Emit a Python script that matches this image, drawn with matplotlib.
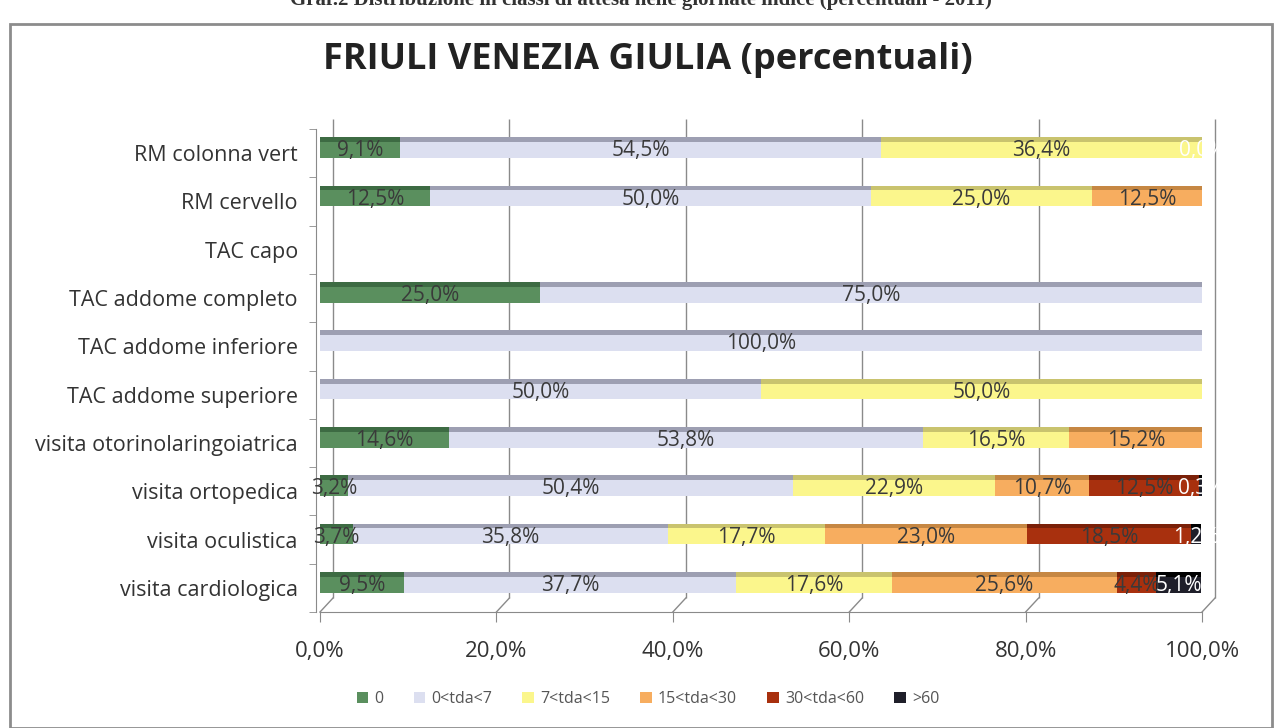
import matplotlib.pyplot as plt
import numpy as np
from matplotlib.patches import Rectangle

plt.rcParams['font.family'] = ['Open Sans', 'DejaVu Sans']

categorie = ["RM colonna vert", "RM cervello", "TAC capo", "TAC addome completo",
             "TAC addome inferiore", "TAC addome superiore",
             "visita otorinolaringoiatrica", "visita ortopedica",
             "visita oculistica", "visita cardiologica"]

classi = ["0", "0<tda<7", "7<tda<15", "15<tda<30", "30<tda<60", ">60"]

# percentuali per classe, nello stesso ordine di categorie
v_0 = [9.1, 12.5, 0, 25.0, 0, 0, 14.6, 3.2, 3.7, 9.5]
v_0_7 = [54.5, 50.0, 0, 75.0, 100.0, 50.0, 53.8, 50.4, 35.8, 37.7]
v_7_15 = [36.4, 25.0, 0, 0, 0, 50.0, 16.5, 22.9, 17.7, 17.6]
v_15_30 = [0, 12.5, 0, 0, 0, 0, 15.2, 10.7, 23.0, 25.6]
v_30_60 = [0, 0, 0, 0, 0, 0, 0, 12.5, 18.5, 4.4]
v_60 = [0.04, 0, 0, 0, 0, 0, 0, 0.3, 1.2, 5.1]

serie = [v_0, v_0_7, v_7_15, v_15_30, v_30_60, v_60]
colori = ['#5a8f5e', '#dcdff0', '#fbf68c', '#f7ad5f', '#a8300e', '#1f1f2a']
bordi = ['#3d6b43', '#9d9fb2', '#c9c36e', '#c68743', '#7a2008', '#000000']
col_testo = ['#3a3a3a', '#3a3a3a', '#3a3a3a', '#3a3a3a', '#3a3a3a', 'white']
grigio = '#8a8a8a'

fig = plt.figure(figsize=(12.82, 7.28), dpi=100)
ax = fig.add_axes([0.2496, 0.1593, 0.688, 0.6635])

y = np.arange(len(categorie))
left = np.zeros(len(categorie))
for i, vals in enumerate(serie):
    vals = np.array(vals)
    # corpo della barra + bordo superiore scuro (effetto 3D)
    ax.barh(y - 0.065, vals, left=left, height=0.33, color=colori[i], label=classi[i],
            edgecolor='none', zorder=3)
    ax.barh(y - 0.28, vals, left=left, height=0.1, color=bordi[i],
            edgecolor='none', zorder=3)
    for j, v in enumerate(vals):
        if v > 0:
            ax.text(left[j] + v / 2, y[j] - 0.05, f"{v:.1f}%".replace('.', ','),
                    ha='center', va='center', fontsize=15, color=col_testo[i],
                    zorder=4, clip_on=False)
    left = left + vals

ax.set_xlim(0, 100)
ax.set_ylim(len(categorie) - 0.5, -0.5)
ax.set_yticks(np.arange(-0.5, len(categorie), 1), minor=True)
ax.set_yticks(y, labels=categorie)
xt = np.arange(0, 101, 20)
ax.set_xticks(xt, labels=[f"{t:.1f}%".replace('.', ',') for t in xt])
ax.tick_params(axis='x', length=7, color=grigio, pad=14, labelsize=16,
               labelcolor='#333333')
ax.tick_params(axis='y', which='major', length=0, pad=13, labelsize=15.5,
               labelcolor='#333333')
ax.tick_params(axis='y', which='minor', length=5, color=grigio)
for s in ['top', 'right']:
    ax.spines[s].set_visible(False)
ax.spines['left'].set_color(grigio)
ax.spines['bottom'].set_color(grigio)
ax.spines['left'].set_position(('outward', 3))

# griglia sulla parete di fondo, spostata come nel grafico 3D
dx = 13 / 882 * 100
dy = 14 / 483
ax.vlines(xt + dx, dy, 1.02, transform=ax.get_xaxis_transform(), color=grigio,
          linewidth=1, zorder=0, clip_on=False)
for t in xt:
    ax.plot([t, t + dx], [0, dy], transform=ax.get_xaxis_transform(), color=grigio,
            linewidth=1, clip_on=False, zorder=0)

fig.text(648 / 1282, 1 - 60 / 728, "FRIULI VENEZIA GIULIA (percentuali)",
         ha='center', va='center', fontsize=26, fontweight='bold', color='#222222')

ax.legend(loc='center', bbox_to_anchor=((648 - 320) / 882, -0.18), ncol=6, frameon=False,
          fontsize=11.5, handlelength=0.7, handleheight=0.7, handletextpad=0.4,
          columnspacing=1.9, labelcolor='#555555')

fig.patches.append(Rectangle((10 / 1282, 0), 1262 / 1282, 1 - 24 / 728,
                             transform=fig.transFigure, fill=False,
                             edgecolor='#8c8c8c', linewidth=2))
fig.text(0.5, 1.0, "Graf.2 Distribuzione in classi di attesa nelle giornate indice (percentuali - 2011)",
         ha='center', va='center', fontsize=15, fontweight='bold',
         family='Liberation Serif', color='#333333')

fig.savefig("out.png", dpi=100)
